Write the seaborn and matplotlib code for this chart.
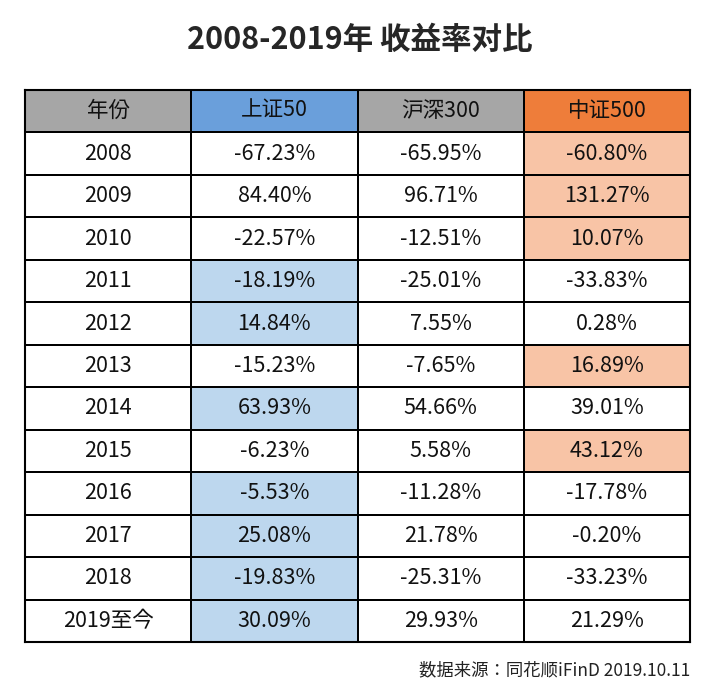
import numpy as np
import pandas as pd
import matplotlib
matplotlib.use("Agg")
import matplotlib.pyplot as plt
from matplotlib.colors import ListedColormap
import seaborn as sns

sns.set_theme(style="white", font="sans-serif",
              rc={"font.sans-serif": ["Noto Sans CJK SC", "Noto Sans CJK JP", "DejaVu Sans"]})

years = ["2008", "2009", "2010", "2011", "2012", "2013", "2014", "2015", "2016", "2017", "2018", "2019至今"]
columns = ["年份", "上证50", "沪深300", "中证500"]
sz50 = [-67.23, 84.40, -22.57, -18.19, 14.84, -15.23, 63.93, -6.23, -5.53, 25.08, -19.83, 30.09]
hs300 = [-65.95, 96.71, -12.51, -25.01, 7.55, -7.65, 54.66, 5.58, -11.28, 21.78, -25.31, 29.93]
zz500 = [-60.80, 131.27, 10.07, -33.83, 0.28, 16.89, 39.01, 43.12, -17.78, -0.20, -33.23, 21.29]

cmap = ListedColormap(["#ffffff", "#a6a6a6", "#6a9fdb", "#ee7d3a", "#bdd7ee", "#f8c4a6"])
vals = np.array([sz50, hs300, zz500]).T
codes = [[1, 2, 1, 3]]
labels = [columns]
for i, y in enumerate(years):
    row = [0, 0, 0, 0]
    best = int(np.argmax(vals[i]))
    if best == 0:
        row[1] = 4
    elif best == 2:
        row[3] = 5
    codes.append(row)
    labels.append([y] + [f"{v:.2f}%" for v in vals[i]])
codes = pd.DataFrame(codes)
labels = np.array(labels)

fig = plt.figure(figsize=(7.2, 6.99), dpi=100)
ax = fig.add_axes([25 / 720, 1 - 642 / 699, 665 / 720, 552 / 699])
sns.heatmap(codes, ax=ax, cmap=cmap, vmin=-0.5, vmax=5.5, cbar=False,
            annot=labels, fmt="", linewidths=1.2, linecolor="black",
            annot_kws={"fontsize": 15.5, "color": "#111111"})
ax.set_xticks([]); ax.set_yticks([])
for s in ax.spines.values():
    s.set_visible(True); s.set_color("black"); s.set_linewidth(1.5)

fig.text(0.5, 1 - 40 / 699, "2008-2019年 收益率对比", ha="center", va="center",
         fontsize=22, fontweight="bold")
fig.text(690 / 720, 1 - 670 / 699, "数据来源：同花顺iFinD 2019.10.11", ha="right", va="center",
         fontsize=12.5, color="#222222")
fig.savefig("out.png", dpi=100)
